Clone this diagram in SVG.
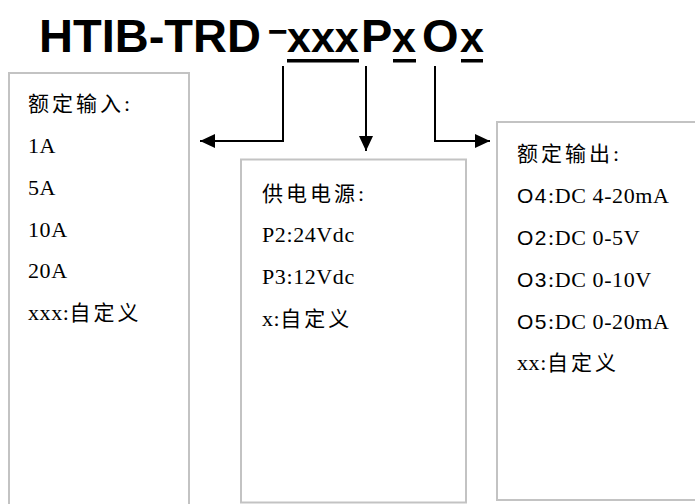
<svg xmlns="http://www.w3.org/2000/svg" width="695" height="504" viewBox="0 0 695 504">
<defs>
<marker id="arr" markerUnits="userSpaceOnUse" markerWidth="16" markerHeight="15" refX="15" refY="7" orient="auto">
<path d="M0,0 L15,7 L0,14 z" fill="#000"/>
</marker>
<style>
.box{fill:#fff;stroke:#c3c3c3;stroke-width:2}
.title{font-family:"Liberation Sans",Arial,sans-serif;font-weight:bold;font-size:47px;fill:#000}
.sx{font-size:43px}
.t{font-family:"Liberation Serif","Noto Sans CJK SC",serif;font-size:22px;fill:#000;letter-spacing:0.6px}
.c{font-family:"Noto Sans CJK SC",sans-serif;font-size:21px;letter-spacing:3px}
.o{font-family:"Liberation Sans",Arial,sans-serif;font-size:21px;letter-spacing:1.5px}
.con{fill:none;stroke:#000;stroke-width:2}
</style>
</defs>
<rect width="695" height="504" fill="#fff"/>
<g id="title">
<text class="title" y="52"><tspan x="39">HTIB-TRD</tspan><tspan x="268" dy="-9" style="font-size:34px">−</tspan><tspan x="287" dy="9" class="sx">xxx</tspan><tspan x="361">P</tspan><tspan x="392" class="sx">x</tspan><tspan x="422">O</tspan><tspan x="460" class="sx">x</tspan></text>
<rect x="287" y="59" width="72" height="3.5" fill="#000"/>
<rect x="393" y="59" width="23" height="3.5" fill="#000"/>
<rect x="461" y="59" width="22" height="3.5" fill="#000"/>
</g>
<g id="input">
<rect class="box" x="9" y="73" width="180" height="450"/>
<text class="t" x="28" y="111"><tspan class="c">额定输入</tspan>:</text>
<text class="t" x="28" y="153">1A</text>
<text class="t" x="28" y="195">5A</text>
<text class="t" x="28" y="237">10A</text>
<text class="t" x="28" y="278">20A</text>
<text class="t" x="28" y="320">xxx:<tspan class="c">自定义</tspan></text>
</g>
<g id="power">
<rect class="box" x="241" y="159.5" width="225" height="343"/>
<text class="t" x="262" y="201"><tspan class="c">供电电源</tspan>:</text>
<text class="t" x="262" y="242">P2:24Vdc</text>
<text class="t" x="262" y="284">P3:12Vdc</text>
<text class="t" x="262" y="326">x:<tspan class="c">自定义</tspan></text>
</g>
<g id="output">
<rect class="box" x="497" y="122" width="220" height="378"/>
<text class="t" x="517" y="161"><tspan class="c">额定输出</tspan>:</text>
<text class="t" x="517" y="203"><tspan class="o">O4</tspan>:DC 4-20mA</text>
<text class="t" x="517" y="245"><tspan class="o">O2</tspan>:DC 0-5V</text>
<text class="t" x="517" y="287"><tspan class="o">O3</tspan>:DC 0-10V</text>
<text class="t" x="517" y="329"><tspan class="o">O5</tspan>:DC 0-20mA</text>
<text class="t" x="517" y="370">xx:<tspan class="c">自定义</tspan></text>
</g>
<g id="connectors">
<path class="con" d="M283,66 V141 H200" marker-end="url(#arr)"/>
<path class="con" d="M366,66 V151" marker-end="url(#arr)"/>
<path class="con" d="M435,66 V141 H490" marker-end="url(#arr)"/>
</g>
</svg>
